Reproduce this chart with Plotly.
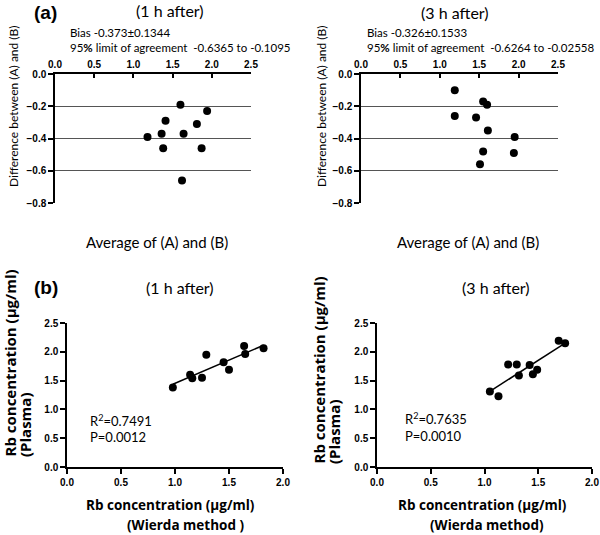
import numpy as np
import plotly.graph_objects as go

# ---------------- data ----------------
# (a) Bland-Altman, 1 h after
ba1_avg = [1.18, 1.36, 1.41, 1.38, 1.60, 1.64, 1.62, 1.81, 1.87, 1.94]
ba1_diff = [-0.39, -0.37, -0.29, -0.46, -0.19, -0.37, -0.66, -0.31, -0.46, -0.23]
# (a) Bland-Altman, 3 h after
ba3_avg = [1.19, 1.19, 1.46, 1.55, 1.60, 1.61, 1.55, 1.51, 1.95, 1.94]
ba3_diff = [-0.10, -0.26, -0.27, -0.17, -0.19, -0.35, -0.48, -0.56, -0.39, -0.49]
# (b) correlation, 1 h after
rb1_wierda = [0.98, 1.14, 1.16, 1.25, 1.29, 1.45, 1.50, 1.64, 1.65, 1.82]
rb1_plasma = [1.38, 1.60, 1.54, 1.55, 1.95, 1.82, 1.69, 2.10, 1.96, 2.06]
# (b) correlation, 3 h after
rb3_wierda = [1.05, 1.13, 1.22, 1.30, 1.32, 1.42, 1.45, 1.49, 1.69, 1.75]
rb3_plasma = [1.31, 1.23, 1.78, 1.78, 1.59, 1.77, 1.61, 1.69, 2.19, 2.15]

a_xticks = [0.0, 0.5, 1.0, 1.5, 2.0, 2.5]
a_yticks = [0.0, -0.2, -0.4, -0.6, -0.8]
b_xticks = [0.0, 0.5, 1.0, 1.5, 2.0]
b_yticks = [0.0, 0.5, 1.0, 1.5, 2.0, 2.5]

W, H = 600, 535
def px(x):
    return x / W
def py(y):
    return 1 - y / H

TICKFONT = dict(family="Liberation Sans", size=10, color="black", weight="bold")
TXT = "Lato"

fig = go.Figure()

marker = dict(color="black", size=8)
fig.add_trace(go.Scatter(x=ba1_avg, y=ba1_diff, mode="markers", marker=marker, xaxis="x", yaxis="y"))
fig.add_trace(go.Scatter(x=ba3_avg, y=ba3_diff, mode="markers", marker=marker, xaxis="x2", yaxis="y2"))
fig.add_trace(go.Scatter(x=rb1_wierda, y=rb1_plasma, mode="markers", marker=marker, xaxis="x3", yaxis="y3"))
fig.add_trace(go.Scatter(x=rb3_wierda, y=rb3_plasma, mode="markers", marker=marker, xaxis="x4", yaxis="y4"))

# regression lines fitted from the data
for xs, ys, xa, ya in [(rb1_wierda, rb1_plasma, "x3", "y3"), (rb3_wierda, rb3_plasma, "x4", "y4")]:
    k, b = np.polyfit(xs, ys, 1)
    lx = [min(xs), max(xs)]
    fig.add_trace(go.Scatter(x=lx, y=[k * v + b for v in lx], mode="lines",
                             line=dict(color="black", width=1.5), xaxis=xa, yaxis=ya))

def a_x(dom, anchor):
    return dict(domain=dom, anchor=anchor, side="top", range=[0, 2.5], tickvals=a_xticks,
                tickformat=".1f", ticks="inside", ticklen=4, tickwidth=1.5, tickcolor="black",
                showline=True, linecolor="black", linewidth=1.5, showgrid=False, zeroline=False,
                tickfont=TICKFONT, automargin=False, fixedrange=True)

def a_y(dom, anchor):
    return dict(domain=dom, anchor=anchor, range=[-0.8, 0], tickvals=a_yticks, tickformat=".1f",
                ticks="outside", ticklen=5, tickwidth=1.5, tickcolor="black",
                showline=True, linecolor="black", linewidth=1.5, showgrid=True,
                gridcolor="#555555", gridwidth=1, zeroline=False, tickfont=TICKFONT,
                automargin=False, fixedrange=True)

def b_x(dom, anchor):
    return dict(domain=dom, anchor=anchor, range=[0, 2.0], tickvals=b_xticks, tickformat=".1f",
                ticks="outside", ticklen=5, tickwidth=1.5, tickcolor="black",
                showline=True, linecolor="black", linewidth=1.5, showgrid=False, zeroline=False,
                tickfont=TICKFONT, automargin=False, fixedrange=True)

def b_y(dom, anchor):
    return dict(domain=dom, anchor=anchor, range=[0, 2.5], tickvals=b_yticks, tickformat=".1f",
                ticks="outside", ticklen=5, tickwidth=1.5, tickcolor="black",
                showline=True, linecolor="black", linewidth=1.5, showgrid=False, zeroline=False,
                tickfont=TICKFONT, automargin=False, fixedrange=True)

ya_dom = [py(203), py(74)]
yb_dom = [py(467), py(323)]

fig.update_layout(
    width=W, height=H,
    margin=dict(l=0, r=0, t=0, b=0),
    paper_bgcolor="white", plot_bgcolor="white",
    showlegend=False,
    xaxis=a_x([px(55), px(251)], "y"),
    yaxis=a_y(ya_dom, "x"),
    xaxis2=a_x([px(361), px(558)], "y2"),
    yaxis2=a_y(ya_dom, "x2"),
    xaxis3=b_x([px(67), px(283)], "y3"),
    yaxis3=b_y(yb_dom, "x3"),
    xaxis4=b_x([px(377), px(592)], "y4"),
    yaxis4=b_y(yb_dom, "x4"),
)

def ann(text, x, y, size, bold=False, xanchor="center", yanchor="middle", angle=0, align="center", family=TXT):
    fig.add_annotation(text=text, x=px(x), y=py(y), xref="paper", yref="paper",
                       showarrow=False, xanchor=xanchor, yanchor=yanchor, textangle=angle,
                       align=align,
                       font=dict(family=family, size=size, color="black",
                                 weight="bold" if bold else "normal"))

# panel labels and titles
ann("(a)", 45, 12, 19, bold=True, family="Liberation Sans")
ann("(1 h after)", 170, 10, 16)
ann("(3 h after)", 455, 13, 16)
ann("(b)", 46, 287, 19, bold=True, family="Liberation Sans")
ann("(1 h after)", 180, 287, 16)
ann("(3 h after)", 496, 287, 16)

# Bland-Altman stats
ann("Bias -0.373±0.1344", 68, 33, 11.5, xanchor="left")
ann("95<b>%</b> limit of agreement  -0.6365 to -0.1095", 68, 48, 11.5, xanchor="left")
ann("Bias -0.326±0.1533", 365, 33, 11.5, xanchor="left")
ann("95<b>%</b> limit of agreement  -0.6264 to -0.02558", 365, 48, 11.5, xanchor="left")

# Bland-Altman axis titles
ann("Difference between (A) and (B)", 14, 106, 12, angle=-90)
ann("Difference between (A) and (B)", 322, 106, 12, angle=-90)
ann("Average of (A) and (B)", 157, 242, 15)
ann("Average of (A) and (B)", 468, 242, 15)

# correlation axis titles
ann("Rb concentration (µg/ml)", 9, 459, 15, bold=True, angle=-90, yanchor="bottom", family="Open Sans")
ann("(Plasma)", 25, 459, 15, bold=True, angle=-90, yanchor="bottom", family="Open Sans")
ann("Rb concentration (µg/ml)", 318, 466, 15, bold=True, angle=-90, yanchor="bottom", family="Open Sans")
ann("(Plasma)", 334, 466, 15, bold=True, angle=-90, yanchor="bottom", family="Open Sans")
ann("Rb concentration (µg/ml)", 170, 505, 13.5, bold=True, family="Open Sans")
ann("(Wierda method )", 185, 525, 13.5, bold=True, family="Open Sans")
ann("Rb concentration (µg/ml)", 482, 505, 13.5, bold=True, family="Open Sans")
ann("(Wierda method)", 487, 525, 13.5, bold=True, family="Open Sans")

# regression statistics
ann("R<sup>2</sup>=0.7491", 88, 420, 13, xanchor="left")
ann("P=0.0012", 88, 437, 13, xanchor="left")
ann("R<sup>2</sup>=0.7635", 403, 418, 13, xanchor="left")
ann("P=0.0010", 403, 436, 13, xanchor="left")

fig.write_html("out.html", config={"displayModeBar": False},
               post_script="document.body.style.margin='0';")
